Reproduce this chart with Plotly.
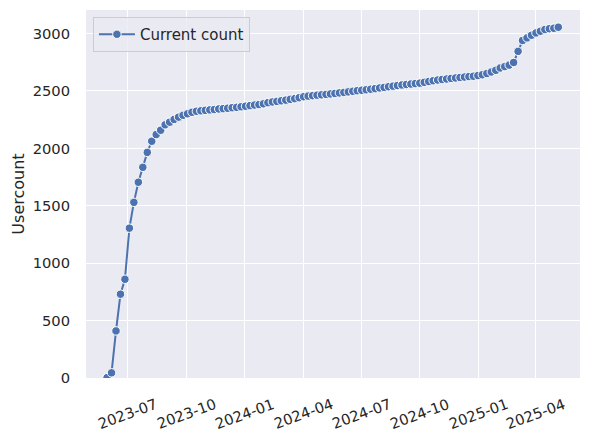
import pandas as pd
import plotly.graph_objects as go

# weekly user counts
start_date = "2023-05-30"
user_counts = [
    3, 45, 410, 730, 860, 1305, 1530, 1705, 1835, 1965,
    2062, 2120, 2158, 2205, 2228, 2252, 2272, 2288, 2301, 2314,
    2323, 2327, 2331, 2335, 2338, 2343, 2346, 2349, 2354, 2357,
    2362, 2367, 2372, 2377, 2381, 2388, 2398, 2404, 2409, 2414,
    2420, 2427, 2433, 2441, 2450, 2455, 2459, 2463, 2466, 2470,
    2474, 2478, 2483, 2487, 2492, 2497, 2502, 2506, 2510, 2515,
    2520, 2526, 2531, 2537, 2542, 2547, 2552, 2556, 2560, 2564,
    2568, 2575, 2582, 2589, 2595, 2600, 2604, 2609, 2613, 2617,
    2621, 2625, 2628, 2634, 2641, 2652, 2665, 2680, 2700, 2712,
    2725, 2748, 2845, 2940, 2962, 2985, 3005, 3020, 3035, 3042,
    3046, 3055,
]
dates = pd.date_range(start=start_date, periods=len(user_counts), freq="7D")

x_ticks = ["2023-07-01", "2023-10-01", "2024-01-01", "2024-04-01",
           "2024-07-01", "2024-10-01", "2025-01-01", "2025-04-01"]
x_tick_labels = [t[:7] for t in x_ticks]
y_ticks = [0, 500, 1000, 1500, 2000, 2500, 3000]

blue = "#4C72B0"
text_col = "#262626"
font_name = "DejaVu Sans"

fig = go.Figure()
fig.add_trace(go.Scatter(
    x=dates, y=user_counts, mode="lines+markers", name="Current count",
    line=dict(color=blue, width=2),
    marker=dict(color=blue, size=8.5, line=dict(color="white", width=1)),
))

# rotated date labels centred under their gridlines (matplotlib style)
for t, lab in zip(x_ticks, x_tick_labels):
    fig.add_annotation(
        x=t, y=0, xref="x", yref="paper", text=lab, showarrow=False,
        textangle=-20, xanchor="center", yanchor="top", yshift=-15,
        font=dict(family=font_name, size=14.7, color=text_col),
    )

# page body adds 8px offset, margins compensate for it
fig.update_layout(
    width=591, height=438,
    margin=dict(l=78, r=19, t=2, b=68),
    paper_bgcolor="white",
    plot_bgcolor="#EAEAF2",
    font=dict(family=font_name, size=14.7, color=text_col),
    showlegend=True,
    legend=dict(
        x=0.014, y=0.981, xanchor="left", yanchor="top",
        bgcolor="rgba(234,234,242,0.8)", bordercolor="#CCCCCC", borderwidth=1,
        font=dict(size=15), itemwidth=36,
    ),
)
fig.update_xaxes(
    type="date",
    range=["2023-04-27", "2025-06-09"],
    tickvals=x_ticks, showticklabels=False,
    showgrid=True, gridcolor="white", gridwidth=1.2,
    zeroline=False, showline=False,
)
fig.update_yaxes(
    range=[0, 3205],
    tickvals=y_ticks,
    showgrid=True, gridcolor="white", gridwidth=1.2,
    zeroline=False, showline=False,
    ticks="outside", ticklen=12, tickcolor="rgba(0,0,0,0)",
    title=dict(text="Usercount", font=dict(size=16), standoff=4),
)

fig.write_html("out.html")
